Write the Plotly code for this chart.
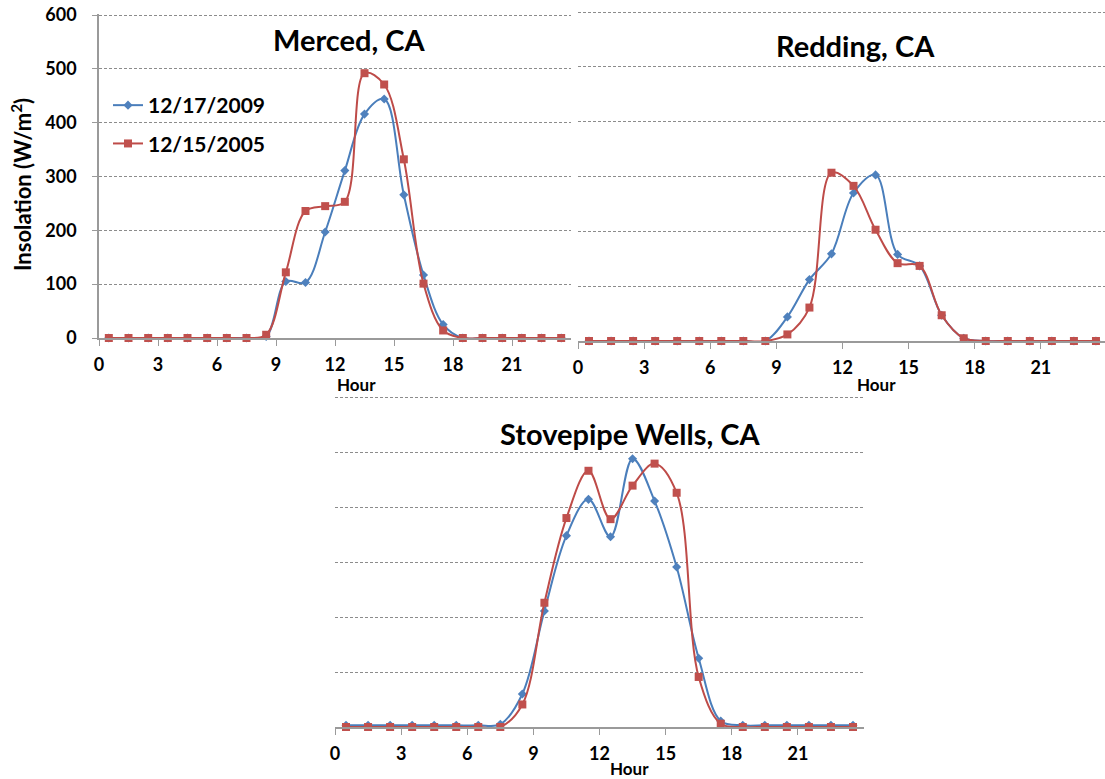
import plotly.graph_objects as go

W, H = 1105, 779

hours = [0.5, 1.5, 2.5, 3.5, 4.5, 5.5, 6.5, 7.5, 8.5, 9.5, 10.5, 11.5,
         12.5, 13.5, 14.5, 15.5, 16.5, 17.5, 18.5, 19.5, 20.5, 21.5, 22.5, 23.5]

merced_2009 = [0, 0, 0, 0, 0, 0, 0, 0, 3, 105, 103, 197, 311, 416, 444, 266, 117, 25, 0, 0, 0, 0, 0, 0]
merced_2005 = [0, 0, 0, 0, 0, 0, 0, 0, 6, 122, 236, 245, 253, 492, 471, 332, 101, 14, 0, 0, 0, 0, 0, 0]
redding_2009 = [0, 0, 0, 0, 0, 0, 0, 0, 0, 44, 112, 159, 270, 303, 158, 137, 47, 5, 0, 0, 0, 0, 0, 0]
redding_2005 = [0, 0, 0, 0, 0, 0, 0, 0, 0, 12, 61, 307, 283, 203, 142, 137, 47, 5, 0, 0, 0, 0, 0, 0]
stove_2009 = [3, 3, 3, 3, 3, 3, 3, 5, 60, 211, 348, 414, 346, 488, 411, 291, 125, 11, 3, 3, 3, 3, 3, 3]
stove_2005 = [0, 0, 0, 0, 0, 0, 0, 0, 41, 226, 380, 466, 378, 439, 479, 426, 91, 6, 0, 0, 0, 0, 0, 0]

series_names = ["12/17/2009", "12/15/2005"]
titles = ["Merced, CA", "Redding, CA", "Stovepipe Wells, CA"]
x_ticks = [0, 3, 6, 9, 12, 15, 18, 21]
x_ticktext = ["0", "3", "6", "9", "12", "15", "18", "21"]
y_ticks = [0, 100, 200, 300, 400, 500, 600]

BLUE_LINE = "#4A7EBB"
BLUE_MK = "#4F81BD"
RED_LINE = "#BE4B48"
RED_MK = "#C0504D"
AXIS_GREY = "#9A9A9A"
FONT = "Lato"

def px_x(p):
    return p / W

def px_y(p):
    return 1 - p / H

fig = go.Figure()

panels = [
    (merced_2009, merced_2005, "x", "y"),
    (redding_2009, redding_2005, "x2", "y2"),
    (stove_2009, stove_2005, "x3", "y3"),
]
for i, (b, r, xa, ya) in enumerate(panels):
    fig.add_trace(go.Scatter(
        x=hours, y=b, xaxis=xa, yaxis=ya, name=series_names[0],
        mode="lines+markers", line=dict(color=BLUE_LINE, width=2, shape="spline", smoothing=1.0),
        marker=dict(symbol="diamond", size=7, color=BLUE_MK),
        showlegend=(i == 0), legendgroup="a", cliponaxis=False))
    fig.add_trace(go.Scatter(
        x=hours, y=r, xaxis=xa, yaxis=ya, name=series_names[1],
        mode="lines+markers", line=dict(color=RED_LINE, width=2, shape="spline", smoothing=1.0),
        marker=dict(symbol="square", size=8, color=RED_MK),
        showlegend=(i == 0), legendgroup="b", cliponaxis=False))

grid = dict(showgrid=True, gridcolor="#8C8C8C", gridwidth=1, griddash="3px,2px", zeroline=False,
            automargin=False)
xcommon = dict(tickmode="array", tickvals=x_ticks, ticktext=x_ticktext, showgrid=False, zeroline=False,
               showline=True, linecolor=AXIS_GREY, linewidth=1.5, ticks="outside", ticklen=6,
               tickcolor=AXIS_GREY, tickfont=dict(family=FONT, size=18, color="black", weight="bold"),
               ticklabelstandoff=4, automargin=False)

fig.update_layout(
    xaxis=dict(domain=[px_x(99), px_x(571)], range=[0, 24], anchor="y", **xcommon),
    yaxis=dict(domain=[px_y(338), px_y(14)], range=[0, 602], anchor="x", tickvals=y_ticks,
               showline=True, linecolor=AXIS_GREY, linewidth=1.5, ticks="outside", ticklen=5,
               tickcolor=AXIS_GREY, ticklabelstandoff=12,
               tickfont=dict(family=FONT, size=18, color="black", weight="bold"), **grid),
    xaxis2=dict(domain=[px_x(578), 1.0], range=[0, 23.91], anchor="y2", **xcommon),
    yaxis2=dict(domain=[px_y(341), px_y(11)], range=[0, 602], anchor="x2", tickvals=y_ticks,
                showticklabels=False, showline=False, ticks="", **grid),
    xaxis3=dict(domain=[px_x(335), px_x(864)], range=[0, 24], anchor="y3", **xcommon),
    yaxis3=dict(domain=[px_y(727), px_y(396)], range=[0, 602], anchor="x3", tickvals=y_ticks,
                showticklabels=False, showline=False, ticks="", **grid),
)

annotations = []
for txt, cx, cy in [(titles[0], 349, 39), (titles[1], 855, 45), (titles[2], 630, 433)]:
    annotations.append(dict(text=txt, x=px_x(cx), y=px_y(cy), xref="paper", yref="paper",
                            xanchor="center", yanchor="middle", showarrow=False,
                            font=dict(family=FONT, size=29, color="black", weight="bold")))
for cx, cy in [(356, 384), (876, 384), (629, 768)]:
    annotations.append(dict(text="Hour", x=px_x(cx), y=px_y(cy), xref="paper", yref="paper",
                            xanchor="center", yanchor="middle", showarrow=False,
                            font=dict(family=FONT, size=17, color="black", weight="bold")))
annotations.append(dict(text="Insolation (W/m<sup>2</sup>)", x=px_x(22), y=px_y(185), xref="paper",
                        yref="paper", xanchor="center", yanchor="middle", showarrow=False, textangle=-90,
                        font=dict(family=FONT, size=22, color="black", weight="bold")))

fig.update_layout(
    width=W, height=H, margin=dict(l=0, r=0, t=0, b=0, pad=0, autoexpand=False),
    paper_bgcolor="white", plot_bgcolor="white",
    annotations=annotations,
    showlegend=True,
    legend=dict(x=px_x(108), y=px_y(85), xanchor="left", yanchor="top",
                bgcolor="rgba(0,0,0,0)", borderwidth=0, tracegroupgap=8,
                itemwidth=30,
                font=dict(family=FONT, size=21, color="black", weight="bold")),
)

fig.write_html("out.html")
